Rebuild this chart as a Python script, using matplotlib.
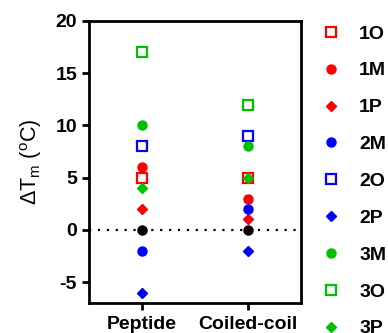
import numpy as np
import matplotlib
matplotlib.use("Agg")
from matplotlib import pyplot as plt

plt.rcParams['font.family'] = ['Liberation Sans', 'DejaVu Sans']
plt.rcParams['mathtext.fontset'] = 'custom'
plt.rcParams['mathtext.rm'] = 'Liberation Sans'
plt.rcParams['mathtext.it'] = 'Liberation Sans:italic'

categories = ["Peptide", "Coiled-coil"]
labels = ["1O", "1M", "1P", "2M", "2O", "2P", "3M", "3O", "3P"]
peptide = [5, 6, 2, -2, 8, -6, 10, 17, 4]
coiled_coil = [5, 3, 1, 2, 9, -2, 8, 12, 5]
control = [0, 0]

colors = {"1": "#ff0000", "2": "#0000ff", "3": "#00c000"}
markers = {"O": "s", "M": "o", "P": "D"}
sizes = {"O": 7.5, "M": 6.5, "P": 4.8}

fig = plt.figure(figsize=(3.88, 3.33), dpi=100)
ax = fig.add_axes([0.229, 0.090, 0.547, 0.847])

x = np.arange(len(categories))
ax.axhline(0, color="black", linestyle=(0, (1, 3)), linewidth=1.6, zorder=1)

for i, lab in enumerate(labels):
    c = colors[lab[0]]
    m = markers[lab[1]]
    filled = lab[1] != "O"
    ax.plot(x, [peptide[i], coiled_coil[i]], linestyle="none", marker=m,
            markersize=sizes[lab[1]], markeredgecolor=c,
            markerfacecolor=c if filled else "white",
            markeredgewidth=1.6 if not filled else 1.0,
            label=lab, zorder=3)

ax.plot(x, control, linestyle="none", marker="o", markersize=6.5,
        color="black", zorder=4)

ax.set_xlim(-0.5, 1.5)
ax.set_ylim(-7, 20)
ax.set_yticks([-5, 0, 5, 10, 15, 20])
ax.set_yticklabels(["-5", "0", "5", "10", "15", "20"])
ax.set_xticks(x)
ax.set_xticklabels(categories)

for s in ax.spines.values():
    s.set_linewidth(2)
ax.tick_params(width=2, length=5, labelsize=14)
for t in ax.get_xticklabels() + ax.get_yticklabels():
    t.set_fontweight("bold")
ax.tick_params(axis="x", pad=4)

ax.set_ylabel(r"$\Delta$T$_\mathrm{m}$ ($^\mathrm{o}$C)", fontsize=15.5, labelpad=8)

fig.legend(loc="upper left", bbox_to_anchor=(0.828, 0.925), frameon=False,
           borderpad=0, borderaxespad=0, handlelength=1, handletextpad=0.95,
           labelspacing=0.99, prop={"weight": "bold", "size": 14})

fig.savefig("out.png", dpi=100)
